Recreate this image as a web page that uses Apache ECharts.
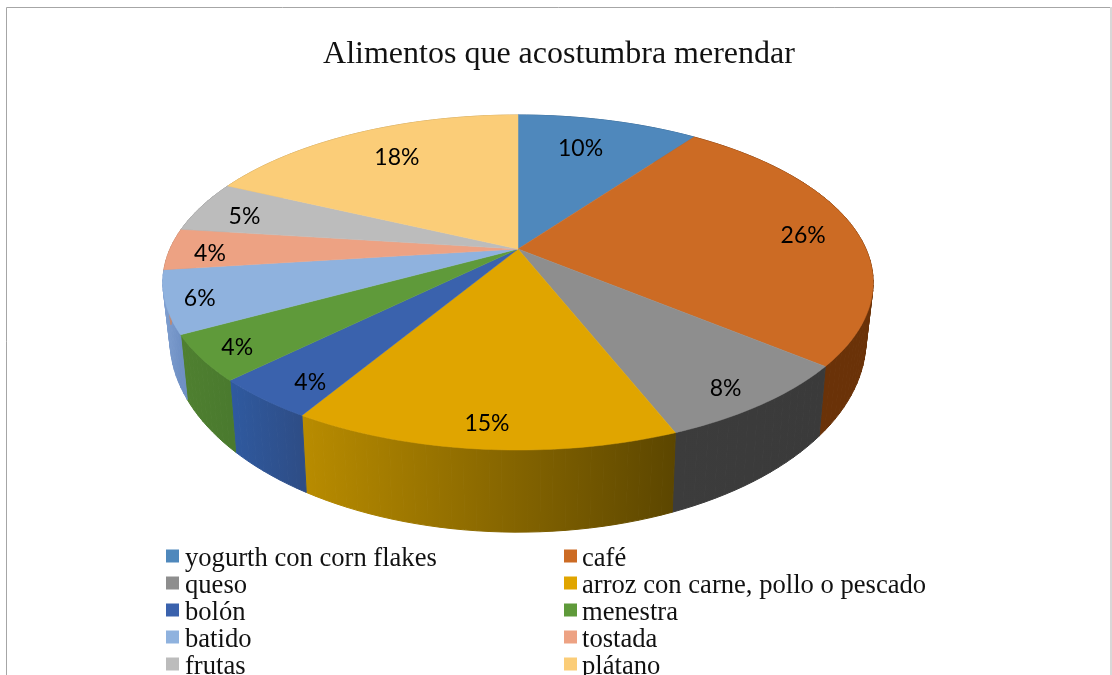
<!DOCTYPE html>
<html><head><meta charset="utf-8">
<script src="https://cdn.jsdelivr.net/npm/echarts@6/dist/echarts.min.js"></script>
<style>html,body{margin:0;padding:0;background:#fff}#c{width:1112px;height:675px}</style>
</head><body><div id="c"></div>
<script>
const categories = ['yogurth con corn flakes','café','queso','arroz con carne, pollo o pescado','bolón','menestra','batido','tostada','frutas','plátano'];
const percents = [10,26,8,14.6,4,4.4,6,4,5,18];
const topColors = ['#4f88bc','#cc6b24','#8e8e8e','#e0a500','#3a62ad','#5f9a3a','#8fb2de','#eda283','#bcbcbc','#fbcd78'];
const wallLeft = ['#3c6890','#7c3d12','#3c3c3c','#b98c00','#2f5aa0','#4f8030','#7f9fd0','#c08870','#909090','#c8a460'];
const wallRight = ['#3c6890','#6a3208','#3a3a3a','#5c4600','#2e4d86','#4a7a2e','#6f90c4','#c08870','#909090','#c8a460'];
const labelNudge = [[-8,0],[31,1],[33,29],[-6,33],[-25,26],[-51,19],[-58,10],[-47,5],[-33,0],[3,-1]];

// perspective disc: apex position, axes, foreshortening, and lower-face transform
const P = {cx:518, cy:249, a:348, b:160.8, k:0.2, sx:0.98, sy:1.15, dy:52};
const project = (theta, r) => {
  const X = r*Math.sin(theta), Y = -r*Math.cos(theta), d = 1 - P.k*Y;
  return [P.a*X/d, P.b*Y/d];
};
const topPt = (t, r=1) => { const p = project(t,r); return [P.cx+p[0], P.cy+p[1]]; };
const botPt = t => { const p = project(t,1); return [P.cx+P.sx*p[0], P.cy+P.dy+P.sy*p[1]]; };

const total = percents.reduce((s,v)=>s+v,0);
let running = 0;
const spans = percents.map(v => { const s = running; running += v; return [s, running]; });
const toAngle = v => v/total*2*Math.PI;
const font = 'Lato, sans-serif';

function renderTop(i){
  return function(params, api){
    const t0 = toAngle(api.value(0)), t1 = toAngle(api.value(1));
    const n = Math.max(4, Math.ceil((t1-t0)/0.02));
    const pts = [topPt(0,0)];
    for (let j=0;j<=n;j++) pts.push(topPt(t0+(t1-t0)*j/n));
    const mid = (t0+t1)/2, lp = topPt(mid,0.75);
    return {type:'group', children:[
      {type:'polygon', shape:{points:pts}, style:{fill:topColors[i], stroke:topColors[i], lineWidth:0.5}, z2:1},
      {type:'text', z2:5, style:{text:Math.round(api.value(1)-api.value(0))+'%',
        x:lp[0]+labelNudge[i][0], y:lp[1]+labelNudge[i][1], align:'center', verticalAlign:'middle',
        fill:'#000', font:'23px '+font}}
    ]};
  };
}
function renderWall(params, api){
  const i = params.dataIndex;
  const t0 = toAngle(api.value(0)), t1 = toAngle(api.value(1));
  const n = Math.max(3, Math.ceil((t1-t0)/0.03));
  const x0 = Math.min(topPt(t0)[0], topPt(t1)[0]), x1 = Math.max(topPt(t0)[0], topPt(t1)[0]);
  const paint = new echarts.graphic.LinearGradient(x0,0,x1,0,
    [{offset:0,color:wallLeft[i]},{offset:1,color:wallRight[i]}], true);
  const kids = [];
  for (let j=0;j<n;j++){
    const a = t0+(t1-t0)*j/n, b = t0+(t1-t0)*(j+1)/n;
    kids.push({type:'polygon', shape:{points:[topPt(a),topPt(b),botPt(b),botPt(a)]},
      style:{fill:paint, stroke:paint, lineWidth:1}});
  }
  return {type:'group', children:kids};
}

const series = [{
  type:'custom', name:'paredes', coordinateSystem:'none', z:1, silent:true,
  renderItem:renderWall, data:spans
}];
categories.forEach((name,i)=>series.push({
  type:'custom', name, coordinateSystem:'none', z:2, silent:true,
  itemStyle:{color:topColors[i]}, renderItem:renderTop(i), data:[spans[i]]
}));
const legendBase = {orient:'vertical', icon:'rect', itemWidth:13, itemHeight:13, itemGap:-7, selectedMode:false,
  itemStyle:{borderWidth:0}, padding:0, height:260, top:539, formatter:'{t|{name}}'};
const legendText = pad => ({rich:{t:{fontFamily:'"Liberation Serif"', fontSize:26.6, color:'#111', lineHeight:13, padding:[7,0,0,pad]}}});

const chart = echarts.init(document.getElementById('c'), null, {renderer:'canvas'});
chart.setOption({
  animation:false, backgroundColor:'#fff',
  title:{text:'Alimentos que acostumbra merendar', left:559, top:39, textAlign:'center', padding:0,
    textStyle:{fontFamily:'"Liberation Serif"', fontWeight:'normal', fontSize:32, color:'#111'}},
  legend:[
    Object.assign({}, legendBase, {left:166, textStyle:legendText(1), data:categories.filter((_,i)=>i%2===0)}),
    Object.assign({}, legendBase, {left:564, textStyle:legendText(0), data:categories.filter((_,i)=>i%2===1)})
  ],
  graphic:[{type:'polyline', silent:true, shape:{points:[[6.5,675],[6.5,7.5],[1111,7.5]]},
    style:{stroke:'#a6a6a6', lineWidth:1, fill:null}},
    {type:'line', silent:true, shape:{x1:1111,y1:7,x2:1111,y2:675}, style:{stroke:'#d8d8d8', lineWidth:2}}],
  series
});
</script></body></html>
